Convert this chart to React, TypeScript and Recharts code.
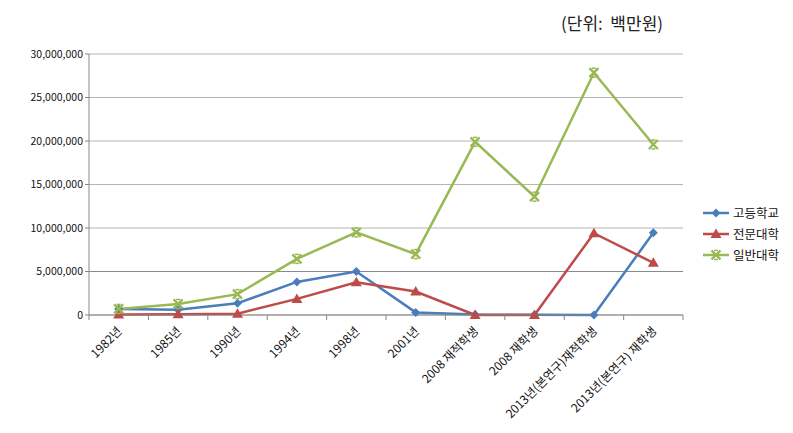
import { LineChart, Line, XAxis, YAxis, CartesianGrid, ReferenceLine } from 'recharts'

// ─── Datos ────────────────────────────────────────────────────────────────────

const CATEGORIAS = [
  '1982년', '1985년', '1990년', '1994년', '1998년', '2001년',
  '2008 재적학생', '2008 재학생', '2013년(본연구)재적학생', '2013년(본연구) 재학생',
]
const GODEUNG = [700000, 600000, 1350000, 3800000, 5000000, 300000, 50000, 20000, 0, 9450000]
const JEONMUN = [50000, 100000, 150000, 1850000, 3760000, 2700000, 0, 0, 9400000, 6000000]
const ILBAN   = [700000, 1270000, 2400000, 6450000, 9500000, 7000000, 19900000, 13600000, 27850000, 19600000]
const Y_TICKS = [0, 5000000, 10000000, 15000000, 20000000, 25000000, 30000000]

const data = CATEGORIAS.map((c, i) => ({ cat: c, g: GODEUNG[i], j: JEONMUN[i], il: ILBAN[i] }))

const AZUL  = '#4a7ebb'
const ROJO  = '#be4b48'
const VERDE = '#98b954'
const FUENTE = "'Noto Sans CJK KR', 'Noto Sans', sans-serif"
const MEDIO = 29.67

// ─── Marcadores ───────────────────────────────────────────────────────────────

function Diamante({ cx, cy }: any) {
  if (cx == null || cy == null) return null
  return <path d={`M${cx},${cy - 4.5}L${cx + 4.5},${cy}L${cx},${cy + 4.5}L${cx - 4.5},${cy}Z`} fill={AZUL} />
}
function Triangulo({ cx, cy }: any) {
  if (cx == null || cy == null) return null
  return <path d={`M${cx},${cy - 5.5}L${cx + 5.5},${cy + 4}L${cx - 5.5},${cy + 4}Z`} fill={ROJO} />
}
function Cruz({ cx, cy }: any) {
  if (cx == null || cy == null) return null
  const r = 4.5
  return (
    <g stroke={VERDE} strokeWidth={2.4}>
      <line x1={cx - r} y1={cy - r} x2={cx + r} y2={cy + r} />
      <line x1={cx - r} y1={cy + r} x2={cx + r} y2={cy - r} />
      <line x1={cx - 2} y1={cy - r} x2={cx + 2} y2={cy - r} strokeWidth={1.5} />
      <line x1={cx - 2} y1={cy + r} x2={cx + 2} y2={cy + r} strokeWidth={1.5} />
    </g>
  )
}

// ─── Ticks ────────────────────────────────────────────────────────────────────

function TickX({ x, y, payload, index }: any) {
  return (
    <g>
      <line x1={x - MEDIO} y1={y - 8} x2={x - MEDIO} y2={y - 3} stroke="#868686" />
      {index === CATEGORIAS.length - 1 && (
        <line x1={x + MEDIO} y1={y - 8} x2={x + MEDIO} y2={y - 3} stroke="#868686" />
      )}
      <text
        x={x + 4}
        y={y + 9}
        transform={`rotate(-45, ${x + 4}, ${y + 9})`}
        textAnchor="end"
        fontSize={12}
        fill="#111"
        fontFamily={FUENTE}
      >
        {payload.value}
      </text>
    </g>
  )
}

function Leyenda() {
  const items = [
    { name: '고등학교', color: AZUL, M: Diamante },
    { name: '전문대학', color: ROJO, M: Triangulo },
    { name: '일반대학', color: VERDE, M: Cruz },
  ]
  return (
    <svg width={90} height={66} style={{ position: 'absolute', left: 701, top: 203 }}>
      {items.map((it, i) => {
        const cy = 10 + i * 21
        return (
          <g key={it.name}>
            <line x1={2} y1={cy} x2={28} y2={cy} stroke={it.color} strokeWidth={2.5} />
            <it.M cx={15} cy={cy} />
            <text x={32} y={cy + 4.5} fontSize={12.5} fill="#111" fontFamily={FUENTE}>{it.name}</text>
          </g>
        )
      })}
    </svg>
  )
}

// ─── App ──────────────────────────────────────────────────────────────────────

export default function App() {
  return (
    <div style={{ position: 'absolute', left: 0, top: 0, width: 793, height: 433, background: '#fff', fontFamily: FUENTE }}>
      <div style={{ position: 'absolute', left: 561, top: 10, fontSize: 17, color: '#222' }}>(단위:&nbsp; 백만원)</div>
      <LineChart width={793} height={433} data={data} margin={{ top: 54, right: 110, bottom: 18, left: 0 }}>
        <CartesianGrid vertical={false} stroke="#b5b5b5" />
        <ReferenceLine y={5000000} stroke="#8a8a8a" />
        <XAxis
          dataKey="cat"
          interval={0}
          height={100}
          padding={{ left: MEDIO, right: MEDIO }}
          stroke="#868686"
          tickLine={false}
          tick={<TickX />}
        />
        <YAxis
          width={89}
          domain={[0, 30000000]}
          ticks={Y_TICKS}
          stroke="#868686"
          tickSize={4}
          tick={{ fill: '#111', fontSize: 10.5, fontFamily: FUENTE }}
          tickFormatter={(v: number) => v.toLocaleString('en-US')}
        />
        <Line dataKey="g" name="고등학교" stroke={AZUL} strokeWidth={2.5} dot={<Diamante />} activeDot={false} isAnimationActive={false} />
        <Line dataKey="j" name="전문대학" stroke={ROJO} strokeWidth={2.5} dot={<Triangulo />} activeDot={false} isAnimationActive={false} />
        <Line dataKey="il" name="일반대학" stroke={VERDE} strokeWidth={2.5} dot={<Cruz />} activeDot={false} isAnimationActive={false} />
      </LineChart>
      <Leyenda />
    </div>
  )
}
